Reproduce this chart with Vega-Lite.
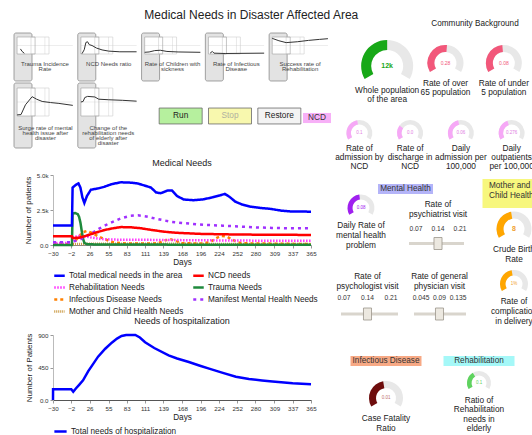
{
"$schema": "https://vega.github.io/schema/vega-lite/v6.json",
"background": "white",
"padding": {"left": 13, "top": 9, "right": 0, "bottom": 0},
"title": {"text": "Medical Needs in Disaster Affected Area", "fontSize": 12, "fontWeight": "normal", "color": "#222", "anchor": "middle", "offset": 0, "dy": 4, "dx": -22},
"config": {
  "font": "Liberation Sans",
  "view": {"stroke": null},
  "axis": {"labelFontSize": 6.2, "titleFontSize": 8.2, "titleFontWeight": "normal", "labelColor": "#333", "titleColor": "#222", "tickColor": "#999", "tickSize": 3, "domainColor": "#bbb", "grid": false, "labelFlush": false},
  "title": {"fontWeight": "normal", "color": "#222"},
  "legend": {"labelFontSize": 8.2, "labelColor": "#222"}
},
"datasets": {
  "thumbs": [
    {"thumb": "trauma", "label": "Trauma Incidence\nRate"},
    {"thumb": "ncd", "label": "NCD Needs ratio"},
    {"thumb": "children", "label": "Rate of Children with\nsickness"},
    {"thumb": "infect", "label": "Rate of Infectious\nDisease"},
    {"thumb": "rehab", "label": "Success rate of\nRehabilitation"},
    {"thumb": "mental", "label": "Surge rate of mental\nhealth issue after\ndisaster"},
    {"thumb": "elderly", "label": "Change of the\nrehabilitation needs\nof elderly after\ndisaster"}
  ],
  "thumbLines": [
    {"thumb": "trauma", "t": 0.06, "v": 0.3}, {"thumb": "trauma", "t": 0.09, "v": 0.15}, {"thumb": "trauma", "t": 0.13, "v": 0.04},
    {"thumb": "ncd", "t": 0.02, "v": 0.02}, {"thumb": "ncd", "t": 0.06, "v": 0.25}, {"thumb": "ncd", "t": 0.09, "v": 0.68}, {"thumb": "ncd", "t": 0.12, "v": 0.72}, {"thumb": "ncd", "t": 0.15, "v": 0.55}, {"thumb": "ncd", "t": 0.2, "v": 0.5}, {"thumb": "ncd", "t": 0.28, "v": 0.35}, {"thumb": "ncd", "t": 0.38, "v": 0.24}, {"thumb": "ncd", "t": 0.5, "v": 0.17}, {"thumb": "ncd", "t": 0.7, "v": 0.13}, {"thumb": "ncd", "t": 1, "v": 0.13},
    {"thumb": "children", "t": 0, "v": 0.1}, {"thumb": "children", "t": 0.08, "v": 0.12}, {"thumb": "children", "t": 0.18, "v": 0.2}, {"thumb": "children", "t": 0.28, "v": 0.22}, {"thumb": "children", "t": 0.4, "v": 0.15}, {"thumb": "children", "t": 0.6, "v": 0.12}, {"thumb": "children", "t": 1, "v": 0.1},
    {"thumb": "infect", "t": 0.03, "v": 0.05}, {"thumb": "infect", "t": 0.07, "v": 0.15}, {"thumb": "infect", "t": 0.1, "v": 0.05}, {"thumb": "infect", "t": 0.3, "v": 0.03}, {"thumb": "infect", "t": 1, "v": 0.05},
    {"thumb": "rehab", "t": 0, "v": 0.92}, {"thumb": "rehab", "t": 0.12, "v": 0.78}, {"thumb": "rehab", "t": 0.25, "v": 0.67}, {"thumb": "rehab", "t": 0.45, "v": 0.72}, {"thumb": "rehab", "t": 0.65, "v": 0.8}, {"thumb": "rehab", "t": 0.85, "v": 0.86}, {"thumb": "rehab", "t": 1, "v": 0.9},
    {"thumb": "mental", "t": 0, "v": 0.04}, {"thumb": "mental", "t": 0.07, "v": 0.05}, {"thumb": "mental", "t": 0.15, "v": 0.4}, {"thumb": "mental", "t": 0.27, "v": 0.69}, {"thumb": "mental", "t": 0.35, "v": 0.6}, {"thumb": "mental", "t": 0.45, "v": 0.52}, {"thumb": "mental", "t": 0.6, "v": 0.48}, {"thumb": "mental", "t": 0.75, "v": 0.45}, {"thumb": "mental", "t": 1, "v": 0.38},
    {"thumb": "elderly", "t": 0, "v": 0.5}, {"thumb": "elderly", "t": 0.04, "v": 0.52}, {"thumb": "elderly", "t": 0.07, "v": 0.66}, {"thumb": "elderly", "t": 0.12, "v": 0.7}, {"thumb": "elderly", "t": 0.25, "v": 0.68}, {"thumb": "elderly", "t": 0.32, "v": 0.6}, {"thumb": "elderly", "t": 0.5, "v": 0.58}, {"thumb": "elderly", "t": 0.75, "v": 0.56}, {"thumb": "elderly", "t": 1, "v": 0.53}
  ],
  "buttons": [{"btn": "Run"}, {"btn": "Stop"}, {"btn": "Restore"}, {"btn": "NCD"}],
  "needs": [
    {"day": -30, "series": "Mother and Child Health Needs", "value": 40}, {"day": -1, "series": "Mother and Child Health Needs", "value": 40}, {"day": 0, "series": "Mother and Child Health Needs", "value": 60}, {"day": 30, "series": "Mother and Child Health Needs", "value": 90}, {"day": 100, "series": "Mother and Child Health Needs", "value": 90}, {"day": 200, "series": "Mother and Child Health Needs", "value": 80}, {"day": 365, "series": "Mother and Child Health Needs", "value": 70},
    {"day": -30, "series": "Infectious Disease Needs", "value": 50}, {"day": -1, "series": "Infectious Disease Needs", "value": 50}, {"day": 0, "series": "Infectious Disease Needs", "value": 100}, {"day": 8, "series": "Infectious Disease Needs", "value": 500}, {"day": 15, "series": "Infectious Disease Needs", "value": 900}, {"day": 22, "series": "Infectious Disease Needs", "value": 1000}, {"day": 30, "series": "Infectious Disease Needs", "value": 850}, {"day": 40, "series": "Infectious Disease Needs", "value": 600}, {"day": 50, "series": "Infectious Disease Needs", "value": 400}, {"day": 62, "series": "Infectious Disease Needs", "value": 200}, {"day": 75, "series": "Infectious Disease Needs", "value": 120}, {"day": 100, "series": "Infectious Disease Needs", "value": 100}, {"day": 130, "series": "Infectious Disease Needs", "value": 120}, {"day": 143, "series": "Infectious Disease Needs", "value": 350}, {"day": 150, "series": "Infectious Disease Needs", "value": 400}, {"day": 158, "series": "Infectious Disease Needs", "value": 300}, {"day": 166, "series": "Infectious Disease Needs", "value": 130}, {"day": 200, "series": "Infectious Disease Needs", "value": 100}, {"day": 212, "series": "Infectious Disease Needs", "value": 250}, {"day": 220, "series": "Infectious Disease Needs", "value": 500}, {"day": 228, "series": "Infectious Disease Needs", "value": 650}, {"day": 236, "series": "Infectious Disease Needs", "value": 600}, {"day": 244, "series": "Infectious Disease Needs", "value": 400}, {"day": 252, "series": "Infectious Disease Needs", "value": 200}, {"day": 262, "series": "Infectious Disease Needs", "value": 120}, {"day": 300, "series": "Infectious Disease Needs", "value": 100}, {"day": 340, "series": "Infectious Disease Needs", "value": 80}, {"day": 365, "series": "Infectious Disease Needs", "value": 80},
    {"day": -30, "series": "Rehabilitation Needs", "value": 150}, {"day": -1, "series": "Rehabilitation Needs", "value": 150}, {"day": 0, "series": "Rehabilitation Needs", "value": 500}, {"day": 8, "series": "Rehabilitation Needs", "value": 650}, {"day": 18, "series": "Rehabilitation Needs", "value": 620}, {"day": 30, "series": "Rehabilitation Needs", "value": 520}, {"day": 45, "series": "Rehabilitation Needs", "value": 420}, {"day": 70, "series": "Rehabilitation Needs", "value": 380}, {"day": 110, "series": "Rehabilitation Needs", "value": 370}, {"day": 160, "series": "Rehabilitation Needs", "value": 350}, {"day": 220, "series": "Rehabilitation Needs", "value": 330}, {"day": 280, "series": "Rehabilitation Needs", "value": 310}, {"day": 365, "series": "Rehabilitation Needs", "value": 300},
    {"day": -30, "series": "Trauma Needs", "value": 0}, {"day": -1, "series": "Trauma Needs", "value": 0}, {"day": 0, "series": "Trauma Needs", "value": 2250}, {"day": 4, "series": "Trauma Needs", "value": 2280}, {"day": 8, "series": "Trauma Needs", "value": 2200}, {"day": 10, "series": "Trauma Needs", "value": 2000}, {"day": 12, "series": "Trauma Needs", "value": 1600}, {"day": 14, "series": "Trauma Needs", "value": 1000}, {"day": 16, "series": "Trauma Needs", "value": 450}, {"day": 18, "series": "Trauma Needs", "value": 150}, {"day": 22, "series": "Trauma Needs", "value": 60}, {"day": 40, "series": "Trauma Needs", "value": 30}, {"day": 365, "series": "Trauma Needs", "value": 20},
    {"day": -30, "series": "Manifest Mental Health Needs", "value": 200}, {"day": -1, "series": "Manifest Mental Health Needs", "value": 200}, {"day": 0, "series": "Manifest Mental Health Needs", "value": 250}, {"day": 10, "series": "Manifest Mental Health Needs", "value": 350}, {"day": 20, "series": "Manifest Mental Health Needs", "value": 600}, {"day": 28, "series": "Manifest Mental Health Needs", "value": 800}, {"day": 40, "series": "Manifest Mental Health Needs", "value": 1150}, {"day": 54, "series": "Manifest Mental Health Needs", "value": 1500}, {"day": 74, "series": "Manifest Mental Health Needs", "value": 1900}, {"day": 88, "series": "Manifest Mental Health Needs", "value": 2080}, {"day": 100, "series": "Manifest Mental Health Needs", "value": 2120}, {"day": 115, "series": "Manifest Mental Health Needs", "value": 2020}, {"day": 130, "series": "Manifest Mental Health Needs", "value": 1850}, {"day": 152, "series": "Manifest Mental Health Needs", "value": 1650}, {"day": 170, "series": "Manifest Mental Health Needs", "value": 1560}, {"day": 200, "series": "Manifest Mental Health Needs", "value": 1450}, {"day": 230, "series": "Manifest Mental Health Needs", "value": 1380}, {"day": 255, "series": "Manifest Mental Health Needs", "value": 1320}, {"day": 280, "series": "Manifest Mental Health Needs", "value": 1260}, {"day": 305, "series": "Manifest Mental Health Needs", "value": 1220}, {"day": 330, "series": "Manifest Mental Health Needs", "value": 1200}, {"day": 365, "series": "Manifest Mental Health Needs", "value": 1200},
    {"day": -30, "series": "NCD needs", "value": 620}, {"day": -1, "series": "NCD needs", "value": 620}, {"day": 0, "series": "NCD needs", "value": 500}, {"day": 10, "series": "NCD needs", "value": 520}, {"day": 20, "series": "NCD needs", "value": 650}, {"day": 30, "series": "NCD needs", "value": 800}, {"day": 40, "series": "NCD needs", "value": 950}, {"day": 50, "series": "NCD needs", "value": 1080}, {"day": 60, "series": "NCD needs", "value": 1180}, {"day": 74, "series": "NCD needs", "value": 1280}, {"day": 90, "series": "NCD needs", "value": 1260}, {"day": 104, "series": "NCD needs", "value": 1200}, {"day": 120, "series": "NCD needs", "value": 1080}, {"day": 140, "series": "NCD needs", "value": 950}, {"day": 160, "series": "NCD needs", "value": 870}, {"day": 198, "series": "NCD needs", "value": 790}, {"day": 250, "series": "NCD needs", "value": 750}, {"day": 303, "series": "NCD needs", "value": 730}, {"day": 365, "series": "NCD needs", "value": 720},
    {"day": -30, "series": "Total medical needs in the area", "value": 1400}, {"day": -1, "series": "Total medical needs in the area", "value": 1400}, {"day": 0, "series": "Total medical needs in the area", "value": 4100}, {"day": 5, "series": "Total medical needs in the area", "value": 4300}, {"day": 9, "series": "Total medical needs in the area", "value": 4400}, {"day": 12, "series": "Total medical needs in the area", "value": 4100}, {"day": 15, "series": "Total medical needs in the area", "value": 3400}, {"day": 18, "series": "Total medical needs in the area", "value": 3000}, {"day": 22, "series": "Total medical needs in the area", "value": 3500}, {"day": 28, "series": "Total medical needs in the area", "value": 3950}, {"day": 40, "series": "Total medical needs in the area", "value": 4050}, {"day": 48, "series": "Total medical needs in the area", "value": 4150}, {"day": 60, "series": "Total medical needs in the area", "value": 4350}, {"day": 74, "series": "Total medical needs in the area", "value": 4480}, {"day": 90, "series": "Total medical needs in the area", "value": 4450}, {"day": 100, "series": "Total medical needs in the area", "value": 4390}, {"day": 110, "series": "Total medical needs in the area", "value": 4250}, {"day": 120, "series": "Total medical needs in the area", "value": 4100}, {"day": 128, "series": "Total medical needs in the area", "value": 3750}, {"day": 135, "series": "Total medical needs in the area", "value": 3700}, {"day": 146, "series": "Total medical needs in the area", "value": 3900}, {"day": 152, "series": "Total medical needs in the area", "value": 3900}, {"day": 160, "series": "Total medical needs in the area", "value": 3500}, {"day": 170, "series": "Total medical needs in the area", "value": 3250}, {"day": 185, "series": "Total medical needs in the area", "value": 3200}, {"day": 200, "series": "Total medical needs in the area", "value": 3260}, {"day": 214, "series": "Total medical needs in the area", "value": 3400}, {"day": 226, "series": "Total medical needs in the area", "value": 3550}, {"day": 233, "series": "Total medical needs in the area", "value": 3650}, {"day": 240, "series": "Total medical needs in the area", "value": 3450}, {"day": 249, "series": "Total medical needs in the area", "value": 3100}, {"day": 260, "series": "Total medical needs in the area", "value": 2880}, {"day": 271, "series": "Total medical needs in the area", "value": 2750}, {"day": 287, "series": "Total medical needs in the area", "value": 2650}, {"day": 303, "series": "Total medical needs in the area", "value": 2580}, {"day": 320, "series": "Total medical needs in the area", "value": 2450}, {"day": 333, "series": "Total medical needs in the area", "value": 2400}, {"day": 365, "series": "Total medical needs in the area", "value": 2380}
  ],
  "hosp": [
    {"day": -30, "series": "Total needs of hospitalization", "value": 0}, {"day": -29.9, "series": "Total needs of hospitalization", "value": 150}, {"day": -2, "series": "Total needs of hospitalization", "value": 150}, {"day": 1, "series": "Total needs of hospitalization", "value": 115}, {"day": 5, "series": "Total needs of hospitalization", "value": 160}, {"day": 10, "series": "Total needs of hospitalization", "value": 210}, {"day": 16, "series": "Total needs of hospitalization", "value": 272}, {"day": 24, "series": "Total needs of hospitalization", "value": 400}, {"day": 30, "series": "Total needs of hospitalization", "value": 480}, {"day": 39, "series": "Total needs of hospitalization", "value": 600}, {"day": 50, "series": "Total needs of hospitalization", "value": 710}, {"day": 60, "series": "Total needs of hospitalization", "value": 794}, {"day": 68, "series": "Total needs of hospitalization", "value": 850}, {"day": 75, "series": "Total needs of hospitalization", "value": 886}, {"day": 82, "series": "Total needs of hospitalization", "value": 900}, {"day": 96, "series": "Total needs of hospitalization", "value": 900}, {"day": 103, "series": "Total needs of hospitalization", "value": 865}, {"day": 111, "series": "Total needs of hospitalization", "value": 800}, {"day": 125, "series": "Total needs of hospitalization", "value": 720}, {"day": 147, "series": "Total needs of hospitalization", "value": 618}, {"day": 160, "series": "Total needs of hospitalization", "value": 575}, {"day": 178, "series": "Total needs of hospitalization", "value": 526}, {"day": 195, "series": "Total needs of hospitalization", "value": 475}, {"day": 209, "series": "Total needs of hospitalization", "value": 435}, {"day": 230, "series": "Total needs of hospitalization", "value": 375}, {"day": 250, "series": "Total needs of hospitalization", "value": 322}, {"day": 270, "series": "Total needs of hospitalization", "value": 290}, {"day": 290, "series": "Total needs of hospitalization", "value": 270}, {"day": 306, "series": "Total needs of hospitalization", "value": 255}, {"day": 337, "series": "Total needs of hospitalization", "value": 231}, {"day": 365, "series": "Total needs of hospitalization", "value": 217}
  ],
  "gA": [
    {"id": "pop", "frac": 0.5, "val": "12k", "label": "Whole population\nof the area"},
    {"id": "o65", "frac": 0.52, "val": "0.28", "label": "Rate of over\n65 population"},
    {"id": "u5", "frac": 0.48, "val": "0.08", "label": "Rate of under\n5 population"}
  ],
  "gB": [
    {"id": "adm", "frac": 0.46, "val": "0.1", "label": "Rate of\nadmission by\nNCD"},
    {"id": "dis", "frac": 0.27, "val": "0.0", "label": "Rate of\ndischarge in\nNCD"},
    {"id": "dadm", "frac": 0.45, "val": "0.06", "label": "Daily\nadmission per\n100,000"},
    {"id": "dout", "frac": 0.42, "val": "0.276", "label": "Daily\noutpatients\nper 100,000"}
  ],
  "gC": [
    {"id": "mh", "frac": 0.47, "val": "0.08", "label": "Daily Rate of\nmental health\nproblem"},
    {"id": "birth", "frac": 0.46, "val": "8", "label": "Crude Birth\nRate"},
    {"id": "compl", "frac": 0.46, "val": "1%", "label": "Rate of\ncomplication\nin delivery"}
  ],
  "sliders": [
    {"id": "psychiatrist", "value": 0.14},
    {"id": "psychologist", "value": 0.14},
    {"id": "gp", "value": 0.09}
  ],
  "gD": [
    {"id": "cfr", "frac": 0.46, "val": "0.01", "label": "Case Fatality\nRatio"},
    {"id": "rehab", "frac": 0.37, "val": "0.1", "label": "Ratio of\nRehabilitation\nneeds in\nelderly"}
  ]
},
"spacing": 0,
"hconcat": [
  {
    "bounds": "flush",
    "spacing": 2,
    "resolve": {"scale": {"color": "independent", "strokeDash": "independent"}},
    "vconcat": [
      {
        "width": 258, "height": 63,
        "data": {"name": "thumbs"},
        "transform": [{"filter": {"field": "thumb", "oneOf": ["trauma", "ncd", "children", "infect", "rehab"]}}],
        "layer": [
          {"mark": {"type": "bar", "color": "#e3e3e3", "stroke": "#8c8c8c", "strokeWidth": 0.8, "cornerRadius": 2},
           "encoding": {"x": {"field": "thumb", "type": "nominal", "scale": {"domain": ["trauma", "ncd", "children", "infect", "rehab"], "range": [-39, 278], "paddingInner": 0.03, "paddingOuter": 0}, "axis": null},
                        "y": {"datum": -1.588, "type": "quantitative", "scale": {"domain": [0, 1], "range": [36, 19], "nice": false, "zero": false}, "axis": null}, "y2": {"datum": 1.235}}},
          {"mark": {"type": "bar", "color": "white", "width": {"band": 0.9}},
           "encoding": {"x": {"field": "thumb", "type": "nominal", "axis": null}, "y": {"datum": 0, "type": "quantitative", "axis": null}, "y2": {"datum": 1}}},
          {"mark": {"type": "bar", "color": "white", "fillOpacity": 0, "stroke": "#cccccc", "strokeWidth": 0.6, "width": {"band": 0.45}},
           "encoding": {"x": {"field": "thumb", "type": "nominal", "axis": null}, "y": {"datum": 0, "type": "quantitative", "axis": null}, "y2": {"datum": 1}}},
          {"mark": {"type": "tick", "orient": "vertical", "size": 17, "thickness": 0.6, "color": "#cccccc"},
           "encoding": {"x": {"field": "thumb", "type": "nominal", "axis": null}, "y": {"datum": 0.5, "type": "quantitative", "axis": null}}},
          {"mark": {"type": "tick", "orient": "horizontal", "size": 55.7, "thickness": 0.6, "color": "#cccccc"},
           "encoding": {"x": {"field": "thumb", "type": "nominal", "axis": null}, "y": {"datum": 0.5, "type": "quantitative", "axis": null}}},
          {"mark": {"type": "bar", "color": "white", "fillOpacity": 0, "stroke": "#a0a0a0", "strokeWidth": 0.6, "width": {"band": 0.9}},
           "encoding": {"x": {"field": "thumb", "type": "nominal", "axis": null}, "y": {"datum": 0, "type": "quantitative", "axis": null}, "y2": {"datum": 1}}},
          {"data": {"name": "thumbLines"},
           "transform": [{"filter": {"field": "thumb", "oneOf": ["trauma", "ncd", "children", "infect", "rehab"]}}],
           "mark": {"type": "line", "color": "#333333", "strokeWidth": 1},
           "encoding": {"x": {"field": "thumb", "type": "nominal", "axis": null}, "xOffset": {"field": "t", "type": "quantitative", "scale": {"domain": [0, 1], "range": [3.1, 58.8]}}, "y": {"field": "v", "type": "quantitative", "axis": null}, "detail": {"field": "thumb", "type": "nominal"}}},
          {"mark": {"type": "text", "baseline": "top", "dy": 11, "fontSize": 6, "lineHeight": 5.5, "lineBreak": "\n", "color": "#444"},
           "encoding": {"x": {"field": "thumb", "type": "nominal", "axis": null}, "text": {"field": "label", "type": "nominal"}}}
        ]
      },
      {
        "width": 258, "height": 90,
        "resolve": {"scale": {"x": "independent"}},
        "layer": [
          {"data": {"name": "thumbs"}, "transform": [{"filter": {"field": "thumb", "oneOf": ["mental", "elderly"]}}],
           "mark": {"type": "bar", "color": "#e3e3e3", "stroke": "#8c8c8c", "strokeWidth": 0.8, "cornerRadius": 2},
           "encoding": {"x": {"field": "thumb", "type": "nominal", "scale": {"domain": ["mental", "elderly"], "range": [-39, 86.7], "paddingInner": 0.03, "paddingOuter": 0}, "axis": null},
                        "y": {"datum": -1.1429, "type": "quantitative", "scale": {"domain": [0, 1], "range": [33, 5], "nice": false, "zero": false}, "axis": null}, "y2": {"datum": 1.1786}}},
          {"data": {"name": "thumbs"}, "transform": [{"filter": {"field": "thumb", "oneOf": ["mental", "elderly"]}}],
           "mark": {"type": "bar", "color": "white", "width": {"band": 0.9}},
           "encoding": {"x": {"field": "thumb", "type": "nominal", "scale": {"domain": ["mental", "elderly"], "range": [-39, 86.7], "paddingInner": 0.03, "paddingOuter": 0}, "axis": null}, "y": {"datum": 0, "type": "quantitative", "axis": null}, "y2": {"datum": 1}}},
          {"data": {"name": "thumbs"}, "transform": [{"filter": {"field": "thumb", "oneOf": ["mental", "elderly"]}}],
           "mark": {"type": "bar", "color": "white", "fillOpacity": 0, "stroke": "#cccccc", "strokeWidth": 0.6, "width": {"band": 0.45}},
           "encoding": {"x": {"field": "thumb", "type": "nominal", "scale": {"domain": ["mental", "elderly"], "range": [-39, 86.7], "paddingInner": 0.03, "paddingOuter": 0}, "axis": null}, "y": {"datum": 0, "type": "quantitative", "axis": null}, "y2": {"datum": 1}}},
          {"data": {"name": "thumbs"}, "transform": [{"filter": {"field": "thumb", "oneOf": ["mental", "elderly"]}}],
           "mark": {"type": "tick", "orient": "vertical", "size": 28, "thickness": 0.6, "color": "#cccccc"},
           "encoding": {"x": {"field": "thumb", "type": "nominal", "scale": {"domain": ["mental", "elderly"], "range": [-39, 86.7], "paddingInner": 0.03, "paddingOuter": 0}, "axis": null}, "y": {"datum": 0.5, "type": "quantitative", "axis": null}}},
          {"data": {"name": "thumbs"}, "transform": [{"filter": {"field": "thumb", "oneOf": ["mental", "elderly"]}}],
           "mark": {"type": "tick", "orient": "horizontal", "size": 55.7, "thickness": 0.6, "color": "#cccccc"},
           "encoding": {"x": {"field": "thumb", "type": "nominal", "scale": {"domain": ["mental", "elderly"], "range": [-39, 86.7], "paddingInner": 0.03, "paddingOuter": 0}, "axis": null}, "y": {"datum": 0.5, "type": "quantitative", "axis": null}}},
          {"data": {"name": "thumbs"}, "transform": [{"filter": {"field": "thumb", "oneOf": ["mental", "elderly"]}}],
           "mark": {"type": "bar", "color": "white", "fillOpacity": 0, "stroke": "#a0a0a0", "strokeWidth": 0.6, "width": {"band": 0.9}},
           "encoding": {"x": {"field": "thumb", "type": "nominal", "scale": {"domain": ["mental", "elderly"], "range": [-39, 86.7], "paddingInner": 0.03, "paddingOuter": 0}, "axis": null}, "y": {"datum": 0, "type": "quantitative", "axis": null}, "y2": {"datum": 1}}},
          {"data": {"name": "thumbLines"}, "transform": [{"filter": {"field": "thumb", "oneOf": ["mental", "elderly"]}}],
           "mark": {"type": "line", "color": "#333333", "strokeWidth": 1},
           "encoding": {"x": {"field": "thumb", "type": "nominal", "scale": {"domain": ["mental", "elderly"], "range": [-39, 86.7], "paddingInner": 0.03, "paddingOuter": 0}, "axis": null}, "xOffset": {"field": "t", "type": "quantitative", "scale": {"domain": [0, 1], "range": [3.1, 58.8]}}, "y": {"field": "v", "type": "quantitative", "axis": null}, "detail": {"field": "thumb", "type": "nominal"}}},
          {"data": {"name": "thumbs"}, "transform": [{"filter": {"field": "thumb", "oneOf": ["mental", "elderly"]}}],
           "mark": {"type": "text", "baseline": "top", "dy": -3.5, "fontSize": 6, "lineHeight": 5, "lineBreak": "\n", "color": "#444"},
           "encoding": {"x": {"field": "thumb", "type": "nominal", "scale": {"domain": ["mental", "elderly"], "range": [-39, 86.7], "paddingInner": 0.03, "paddingOuter": 0}, "axis": null}, "text": {"field": "label", "type": "nominal"}}},
          {"data": {"name": "buttons"}, "transform": [{"filter": {"field": "btn", "equal": "Run"}}],
           "mark": {"type": "point", "shape": "M-1,-0.37H1V0.37H-1Z", "size": 1849, "filled": true, "opacity": 1, "color": "#b6f09e", "stroke": "#6a6a6a", "strokeWidth": 0.8, "yOffset": -12},
           "encoding": {"x": {"field": "btn", "type": "nominal", "scale": {"domain": ["Run", "Stop", "Restore"], "range": [103, 251], "paddingInner": 0, "paddingOuter": 0}, "axis": null}}},
          {"data": {"name": "buttons"}, "transform": [{"filter": {"field": "btn", "equal": "Stop"}}],
           "mark": {"type": "point", "shape": "M-1,-0.37H1V0.37H-1Z", "size": 1849, "filled": true, "opacity": 1, "color": "#f8f8ae", "stroke": "#6a6a6a", "strokeWidth": 0.8, "yOffset": -12},
           "encoding": {"x": {"field": "btn", "type": "nominal", "scale": {"domain": ["Run", "Stop", "Restore"], "range": [103, 251], "paddingInner": 0, "paddingOuter": 0}, "axis": null}}},
          {"data": {"name": "buttons"}, "transform": [{"filter": {"field": "btn", "equal": "Restore"}}],
           "mark": {"type": "point", "shape": "M-1,-0.37H1V0.37H-1Z", "size": 1849, "filled": true, "opacity": 1, "color": "#f3f3f3", "stroke": "#6a6a6a", "strokeWidth": 0.8, "yOffset": -12},
           "encoding": {"x": {"field": "btn", "type": "nominal", "scale": {"domain": ["Run", "Stop", "Restore"], "range": [103, 251], "paddingInner": 0, "paddingOuter": 0}, "axis": null}}},
          {"data": {"name": "buttons"}, "transform": [{"filter": {"field": "btn", "oneOf": ["Run", "Restore"]}}],
           "mark": {"type": "text", "fontSize": 8.3, "color": "#222", "yOffset": -12},
           "encoding": {"x": {"field": "btn", "type": "nominal", "scale": {"domain": ["Run", "Stop", "Restore"], "range": [103, 251], "paddingInner": 0, "paddingOuter": 0}, "axis": null}, "text": {"field": "btn", "type": "nominal"}}},
          {"data": {"name": "buttons"}, "transform": [{"filter": {"field": "btn", "equal": "Stop"}}],
           "mark": {"type": "text", "fontSize": 8.3, "color": "#b0b0a0", "yOffset": -12},
           "encoding": {"x": {"field": "btn", "type": "nominal", "scale": {"domain": ["Run", "Stop", "Restore"], "range": [103, 251], "paddingInner": 0, "paddingOuter": 0}, "axis": null}, "text": {"field": "btn", "type": "nominal"}}},
          {"data": {"name": "buttons"}, "transform": [{"filter": {"field": "btn", "equal": "NCD"}}],
           "mark": {"type": "point", "shape": "M-1,-0.36H1V0.36H-1Z", "size": 784, "filled": true, "opacity": 1, "color": "#f7b0f7", "yOffset": -10},
           "encoding": {"x": {"field": "btn", "type": "nominal", "scale": {"domain": ["NCD"], "range": [250, 278], "paddingInner": 0, "paddingOuter": 0}, "axis": null}}},
          {"data": {"name": "buttons"}, "transform": [{"filter": {"field": "btn", "equal": "NCD"}}],
           "mark": {"type": "text", "fontSize": 8.3, "color": "#333", "yOffset": -10},
           "encoding": {"x": {"field": "btn", "type": "nominal", "scale": {"domain": ["NCD"], "range": [250, 278], "paddingInner": 0, "paddingOuter": 0}, "axis": null}, "text": {"field": "btn", "type": "nominal"}}}
        ]
      },
      {
        "width": 258, "height": 70,
        "title": {"text": "Medical Needs", "fontSize": 9, "offset": 4},
        "data": {"name": "needs"},
        "mark": {"type": "line", "strokeWidth": 2.5},
        "encoding": {
          "x": {"field": "day", "type": "quantitative", "scale": {"domain": [-30, 365], "nice": false, "zero": false},
                "axis": {"title": "Days", "values": [-30, -2, 26, 55, 83, 111, 139, 168, 196, 224, 252, 280, 309, 337, 365], "labelOverlap": false, "domainColor": "#888", "titlePadding": 2}},
          "y": {"field": "value", "type": "quantitative", "scale": {"domain": [0, 5000], "nice": false},
                "axis": {"title": "Number of patients", "values": [0, 2500, 5000], "format": ".2s", "titleFontSize": 8}},
          "color": {"field": "series", "type": "nominal",
                    "scale": {"domain": ["Total medical needs in the area", "NCD needs", "Rehabilitation Needs", "Trauma Needs", "Infectious Disease Needs", "Manifest Mental Health Needs", "Mother and Child Health Needs"],
                              "range": ["#0000ff", "#ff0000", "#ff33ff", "#1e8a3c", "#ff8000", "#a030ff", "#c8963c"]},
                    "legend": {"title": null, "orient": "bottom", "columns": 2, "symbolType": "stroke", "symbolSize": 110, "symbolStrokeWidth": 2.5, "columnPadding": 4, "rowPadding": 0, "labelOffset": 3, "offset": 3}},
          "strokeDash": {"field": "series", "type": "nominal",
                    "scale": {"domain": ["Total medical needs in the area", "NCD needs", "Rehabilitation Needs", "Trauma Needs", "Infectious Disease Needs", "Manifest Mental Health Needs", "Mother and Child Health Needs"],
                              "range": [[1, 0], [1, 0], [1.5, 1.5], [1, 0], [3, 3], [3, 4], [1, 1]]},
                    "legend": {"title": null, "orient": "bottom", "columns": 2, "symbolType": "stroke", "symbolSize": 110, "symbolStrokeWidth": 2.5, "columnPadding": 4, "rowPadding": 0, "labelOffset": 3, "offset": 3}}
        }
      },
      {
        "width": 258, "height": 86,
        "data": {"values": [{"blank": 1}]},
        "mark": {"type": "point", "opacity": 0},
        "encoding": {}
      },
      {
        "width": 258, "height": 65,
        "title": {"text": "Needs of hospitalization", "fontSize": 9, "offset": 4},
        "data": {"name": "hosp"},
        "mark": {"type": "line", "strokeWidth": 2.5},
        "encoding": {
          "x": {"field": "day", "type": "quantitative", "scale": {"domain": [-30, 365], "nice": false, "zero": false},
                "axis": {"title": "Days", "values": [-30, -2, 26, 55, 83, 111, 139, 168, 196, 224, 252, 280, 309, 337, 365], "labelOverlap": false, "domainColor": "#555", "titlePadding": 2}},
          "y": {"field": "value", "type": "quantitative", "scale": {"domain": [0, 900], "nice": false},
                "axis": {"title": "Number of Patients", "values": [0, 450, 900], "format": ".2s", "titleFontSize": 8}},
          "color": {"field": "series", "type": "nominal", "scale": {"range": ["#0000ff"]},
                    "legend": {"title": null, "orient": "bottom", "symbolType": "stroke", "symbolSize": 150, "symbolStrokeWidth": 2.5, "labelOffset": 3, "offset": 3}}
        }
      }
    ]
  },
  {
    "bounds": "flush",
    "spacing": 0,
    "vconcat": [
      {
        "width": 202, "height": 75,
        "data": {"name": "gA"},
        "layer": [
          {"transform": [{"filter": "datum.id == 'pop'"}], "mark": {"type": "text", "text": "Community Background", "fontSize": 8.2, "color": "#222", "xOffset": 43, "yOffset": -31.5}, "encoding": {}},
          {"transform": [{"filter": "datum.id == 'pop'"}], "mark": {"type": "arc", "outerRadius": 26, "innerRadius": 16, "color": "#e8e8e8", "yOffset": 10.5, "theta": -2.0944, "theta2": 2.0944},
           "encoding": {"x": {"field": "id", "type": "nominal", "scale": {"domain": ["pop", "o65", "u5"], "range": [27, 202], "paddingInner": 0, "paddingOuter": 0}, "axis": null}}},
          {"transform": [{"filter": "datum.id == 'pop'"}], "mark": {"type": "arc", "outerRadius": 26, "innerRadius": 16, "color": "#17a817", "yOffset": 10.5, "theta2": -2.0944},
           "encoding": {"x": {"field": "id", "type": "nominal", "axis": null}, "theta": {"field": "frac", "type": "quantitative", "stack": null, "scale": {"domain": [0, 1], "range": [-2.0944, 2.0944]}}}},
          {"transform": [{"filter": "datum.id != 'pop'"}], "mark": {"type": "arc", "outerRadius": 18, "innerRadius": 11, "color": "#e8e8e8", "yOffset": 7.5, "theta": -2.0944, "theta2": 2.0944},
           "encoding": {"x": {"field": "id", "type": "nominal", "axis": null}}},
          {"transform": [{"filter": "datum.id != 'pop'"}], "mark": {"type": "arc", "outerRadius": 18, "innerRadius": 11, "color": "#f2577a", "yOffset": 7.5, "theta2": -2.0944},
           "encoding": {"x": {"field": "id", "type": "nominal", "axis": null}, "theta": {"field": "frac", "type": "quantitative", "stack": null}}},
          {"transform": [{"filter": "datum.id == 'pop'"}], "mark": {"type": "text", "fontSize": 7, "fontWeight": "bold", "color": "#17a817", "yOffset": 10.5},
           "encoding": {"x": {"field": "id", "type": "nominal", "axis": null}, "text": {"field": "val", "type": "nominal"}}},
          {"transform": [{"filter": "datum.id != 'pop'"}], "mark": {"type": "text", "fontSize": 5, "color": "#f2577a", "yOffset": 7.5},
           "encoding": {"x": {"field": "id", "type": "nominal", "axis": null}, "text": {"field": "val", "type": "nominal"}}},
          {"transform": [{"filter": "datum.id == 'pop'"}], "mark": {"type": "text", "baseline": "top", "dy": 30.75, "fontSize": 8.3, "lineHeight": 9, "lineBreak": "\n", "color": "#222"},
           "encoding": {"x": {"field": "id", "type": "nominal", "axis": null}, "text": {"field": "label", "type": "nominal"}}},
          {"transform": [{"filter": "datum.id != 'pop'"}], "mark": {"type": "text", "baseline": "top", "dy": 23.75, "fontSize": 8.3, "lineHeight": 9, "lineBreak": "\n", "color": "#222"},
           "encoding": {"x": {"field": "id", "type": "nominal", "axis": null}, "text": {"field": "label", "type": "nominal"}}}
        ]
      },
      {
        "width": 202, "height": 80,
        "data": {"name": "gB"},
        "layer": [
          {"mark": {"type": "arc", "outerRadius": 13, "innerRadius": 8.5, "color": "#e8e8e8", "theta": -2.0944, "theta2": 2.0944},
           "encoding": {"x": {"field": "id", "type": "nominal", "scale": {"domain": ["adm", "dis", "dadm", "dout"], "range": [3, 206], "paddingInner": 0, "paddingOuter": 0}, "axis": null}}},
          {"mark": {"type": "arc", "outerRadius": 13, "innerRadius": 8.5, "color": "#f6a8f6", "theta2": -2.0944},
           "encoding": {"x": {"field": "id", "type": "nominal", "axis": null}, "theta": {"field": "frac", "type": "quantitative", "stack": null, "scale": {"domain": [0, 1], "range": [-2.0944, 2.0944]}}}},
          {"mark": {"type": "text", "fontSize": 4.5, "color": "#e27ee2"},
           "encoding": {"x": {"field": "id", "type": "nominal", "axis": null}, "text": {"field": "val", "type": "nominal"}}},
          {"mark": {"type": "text", "baseline": "top", "dy": 11.3, "fontSize": 8.3, "lineHeight": 9, "lineBreak": "\n", "color": "#222", "clip": true},
           "encoding": {"x": {"field": "id", "type": "nominal", "axis": null}, "text": {"field": "label", "type": "nominal"}}}
        ]
      },
      {
        "width": 202, "height": 90,
        "layer": [
          {"data": {"name": "gC"}, "transform": [{"filter": "datum.id == 'mh'"}],
           "mark": {"type": "point", "shape": "M-1,-0.18H1V0.18H-1Z", "size": 3025, "filled": true, "opacity": 1, "color": "#b4b4f8", "xOffset": -26.5, "yOffset": -29}, "encoding": {}},
          {"data": {"name": "gC"}, "transform": [{"filter": "datum.id == 'mh'"}],
           "mark": {"type": "text", "text": "Mental Health", "fontSize": 8.2, "color": "#333", "xOffset": -26.5, "yOffset": -29}, "encoding": {}},
          {"data": {"name": "gC"}, "transform": [{"filter": "datum.id == 'birth'"}],
           "mark": {"type": "point", "shape": "M-1,-0.558H1V0.558H-1Z", "size": 2704, "filled": true, "opacity": 1, "color": "#f7f77d", "xOffset": 76.5, "yOffset": -24.5, "clip": true}, "encoding": {}},
          {"data": {"name": "gC"}, "transform": [{"filter": "datum.id == 'birth'"}],
           "mark": {"type": "text", "text": ["Mother and", "Child Health"], "align": "left", "baseline": "top", "fontSize": 8.2, "lineHeight": 10, "color": "#333", "xOffset": 57, "yOffset": -36.5, "clip": true}, "encoding": {}},
          {"data": {"name": "gC"}, "transform": [{"filter": "datum.id == 'mh'"}],
           "mark": {"type": "arc", "outerRadius": 13.5, "innerRadius": 8.5, "color": "#e8e8e8", "xOffset": -71, "yOffset": -10, "theta": -2.0944, "theta2": 2.0944}, "encoding": {}},
          {"data": {"name": "gC"}, "transform": [{"filter": "datum.id == 'mh'"}],
           "mark": {"type": "arc", "outerRadius": 13.5, "innerRadius": 8.5, "color": "#a020f0", "xOffset": -71, "yOffset": -10, "theta2": -2.0944},
           "encoding": {"theta": {"field": "frac", "type": "quantitative", "stack": null, "scale": {"domain": [0, 1], "range": [-2.0944, 2.0944]}}}},
          {"data": {"name": "gC"}, "transform": [{"filter": "datum.id == 'mh'"}],
           "mark": {"type": "text", "fontSize": 4.5, "color": "#a020f0", "xOffset": -71, "yOffset": -10}, "encoding": {"text": {"field": "val", "type": "nominal"}}},
          {"data": {"name": "gC"}, "transform": [{"filter": "datum.id == 'mh'"}],
           "mark": {"type": "text", "baseline": "top", "dy": 13, "fontSize": 8.3, "lineHeight": 10, "lineBreak": "\n", "color": "#222", "xOffset": -71, "yOffset": -10}, "encoding": {"text": {"field": "label", "type": "nominal"}}},
          {"data": {"name": "gC"}, "transform": [{"filter": "datum.id == 'birth'"}],
           "mark": {"type": "arc", "outerRadius": 17.5, "innerRadius": 10.5, "color": "#e8e8e8", "xOffset": 82, "yOffset": 11, "theta": -2.0944, "theta2": 2.0944}, "encoding": {}},
          {"data": {"name": "gC"}, "transform": [{"filter": "datum.id == 'birth'"}],
           "mark": {"type": "arc", "outerRadius": 17.5, "innerRadius": 10.5, "color": "#ffa600", "xOffset": 82, "yOffset": 11, "theta2": -2.0944},
           "encoding": {"theta": {"field": "frac", "type": "quantitative", "stack": null}}},
          {"data": {"name": "gC"}, "transform": [{"filter": "datum.id == 'birth'"}],
           "mark": {"type": "text", "fontSize": 7, "fontWeight": "bold", "color": "#f0a030", "xOffset": 82, "yOffset": 11}, "encoding": {"text": {"field": "val", "type": "nominal"}}},
          {"data": {"name": "gC"}, "transform": [{"filter": "datum.id == 'birth'"}],
           "mark": {"type": "text", "baseline": "top", "dy": 15.5, "fontSize": 8.3, "lineHeight": 10, "lineBreak": "\n", "color": "#222", "xOffset": 82, "yOffset": 11, "clip": true}, "encoding": {"text": {"field": "label", "type": "nominal"}}},
          {"data": {"name": "sliders"}, "transform": [{"filter": "datum.id == 'psychiatrist'"}],
           "mark": {"type": "rule", "color": "#d9d5cd", "strokeWidth": 3, "yOffset": -19.5},
           "encoding": {"x": {"datum": 0.0477, "type": "quantitative", "scale": {"domain": [0.07, 0.21], "range": [85, 129], "nice": false, "zero": false}, "axis": null}, "x2": {"datum": 0.2227},
                        "y": {"datum": 0, "type": "quantitative", "scale": {"domain": [0, 1], "nice": false, "zero": false}, "axis": null}}},
          {"data": {"name": "sliders"}, "transform": [{"filter": "datum.id == 'psychiatrist'"}],
           "mark": {"type": "text", "text": "0.07", "fontSize": 6.7, "color": "#333", "yOffset": -34},
           "encoding": {"x": {"datum": 0.07, "type": "quantitative", "axis": null}, "y": {"datum": 0, "type": "quantitative", "axis": null}}},
          {"data": {"name": "sliders"}, "transform": [{"filter": "datum.id == 'psychiatrist'"}],
           "mark": {"type": "text", "text": "0.14", "fontSize": 6.7, "color": "#333", "yOffset": -34},
           "encoding": {"x": {"datum": 0.14, "type": "quantitative", "axis": null}, "y": {"datum": 0, "type": "quantitative", "axis": null}}},
          {"data": {"name": "sliders"}, "transform": [{"filter": "datum.id == 'psychiatrist'"}],
           "mark": {"type": "text", "text": "0.21", "fontSize": 6.7, "color": "#333", "yOffset": -34},
           "encoding": {"x": {"datum": 0.21, "type": "quantitative", "axis": null}, "y": {"datum": 0, "type": "quantitative", "axis": null}}},
          {"data": {"name": "sliders"}, "transform": [{"filter": "datum.id == 'psychiatrist'"}],
           "mark": {"type": "point", "shape": "M-0.67,-1H0.67V1H-0.67Z", "size": 144, "filled": true, "opacity": 1, "color": "#ece8e0", "stroke": "#9a948a", "strokeWidth": 0.8, "yOffset": -19.5},
           "encoding": {"x": {"field": "value", "type": "quantitative", "axis": null}, "y": {"datum": 0, "type": "quantitative", "axis": null}}},
          {"data": {"name": "sliders"}, "transform": [{"filter": "datum.id == 'psychiatrist'"}],
           "mark": {"type": "text", "text": ["Rate of", "psychiatrist visit"], "baseline": "top", "fontSize": 8.3, "lineHeight": 10, "color": "#222", "yOffset": -63},
           "encoding": {"x": {"datum": 0.14, "type": "quantitative", "axis": null}, "y": {"datum": 0, "type": "quantitative", "axis": null}}}
        ]
      },
      {
        "width": 202, "height": 63,
        "resolve": {"scale": {"x": "independent"}},
        "layer": [
          {"data": {"name": "sliders"}, "transform": [{"filter": "datum.id == 'psychologist'"}],
           "mark": {"type": "rule", "color": "#d9d5cd", "strokeWidth": 3, "yOffset": -12},
           "encoding": {"x": {"datum": 0.0611, "type": "quantitative", "scale": {"domain": [0.07, 0.21], "range": [13, 60], "nice": false, "zero": false}, "axis": null}, "x2": {"datum": 0.2309},
                        "y": {"datum": 0, "type": "quantitative", "scale": {"domain": [0, 1], "nice": false, "zero": false}, "axis": null}}},
          {"data": {"name": "sliders"}, "transform": [{"filter": "datum.id == 'psychologist'"}],
           "mark": {"type": "text", "text": "0.07", "fontSize": 6.7, "color": "#333", "yOffset": -28},
           "encoding": {"x": {"datum": 0.07, "type": "quantitative", "scale": {"domain": [0.07, 0.21], "range": [13, 60], "nice": false, "zero": false}, "axis": null}, "y": {"datum": 0, "type": "quantitative", "axis": null}}},
          {"data": {"name": "sliders"}, "transform": [{"filter": "datum.id == 'psychologist'"}],
           "mark": {"type": "text", "text": "0.14", "fontSize": 6.7, "color": "#333", "yOffset": -28},
           "encoding": {"x": {"datum": 0.14, "type": "quantitative", "scale": {"domain": [0.07, 0.21], "range": [13, 60], "nice": false, "zero": false}, "axis": null}, "y": {"datum": 0, "type": "quantitative", "axis": null}}},
          {"data": {"name": "sliders"}, "transform": [{"filter": "datum.id == 'psychologist'"}],
           "mark": {"type": "text", "text": "0.21", "fontSize": 6.7, "color": "#333", "yOffset": -28},
           "encoding": {"x": {"datum": 0.21, "type": "quantitative", "scale": {"domain": [0.07, 0.21], "range": [13, 60], "nice": false, "zero": false}, "axis": null}, "y": {"datum": 0, "type": "quantitative", "axis": null}}},
          {"data": {"name": "sliders"}, "transform": [{"filter": "datum.id == 'psychologist'"}],
           "mark": {"type": "point", "shape": "M-0.67,-1H0.67V1H-0.67Z", "size": 144, "filled": true, "opacity": 1, "color": "#ece8e0", "stroke": "#9a948a", "strokeWidth": 0.8, "yOffset": -12},
           "encoding": {"x": {"field": "value", "type": "quantitative", "scale": {"domain": [0.07, 0.21], "range": [13, 60], "nice": false, "zero": false}, "axis": null}, "y": {"datum": 0, "type": "quantitative", "axis": null}}},
          {"data": {"name": "sliders"}, "transform": [{"filter": "datum.id == 'psychologist'"}],
           "mark": {"type": "text", "text": ["Rate of", "psychologist visit"], "baseline": "top", "fontSize": 8.3, "lineHeight": 10, "color": "#222", "yOffset": -54.5},
           "encoding": {"x": {"datum": 0.14, "type": "quantitative", "scale": {"domain": [0.07, 0.21], "range": [13, 60], "nice": false, "zero": false}, "axis": null}, "y": {"datum": 0, "type": "quantitative", "axis": null}}},
          {"data": {"name": "sliders"}, "transform": [{"filter": "datum.id == 'gp'"}],
           "mark": {"type": "rule", "color": "#d9d5cd", "strokeWidth": 3, "yOffset": -12},
           "encoding": {"x": {"datum": 0.028, "type": "quantitative", "scale": {"domain": [0.045, 0.135], "range": [90, 127], "nice": false, "zero": false}, "axis": null}, "x2": {"datum": 0.1545},
                        "y": {"datum": 0, "type": "quantitative", "axis": null}}},
          {"data": {"name": "sliders"}, "transform": [{"filter": "datum.id == 'gp'"}],
           "mark": {"type": "text", "text": "0.045", "fontSize": 6.7, "color": "#333", "yOffset": -28},
           "encoding": {"x": {"datum": 0.045, "type": "quantitative", "scale": {"domain": [0.045, 0.135], "range": [90, 127], "nice": false, "zero": false}, "axis": null}, "y": {"datum": 0, "type": "quantitative", "axis": null}}},
          {"data": {"name": "sliders"}, "transform": [{"filter": "datum.id == 'gp'"}],
           "mark": {"type": "text", "text": "0.09", "fontSize": 6.7, "color": "#333", "yOffset": -28},
           "encoding": {"x": {"datum": 0.09, "type": "quantitative", "scale": {"domain": [0.045, 0.135], "range": [90, 127], "nice": false, "zero": false}, "axis": null}, "y": {"datum": 0, "type": "quantitative", "axis": null}}},
          {"data": {"name": "sliders"}, "transform": [{"filter": "datum.id == 'gp'"}],
           "mark": {"type": "text", "text": "0.135", "fontSize": 6.7, "color": "#333", "yOffset": -28},
           "encoding": {"x": {"datum": 0.135, "type": "quantitative", "scale": {"domain": [0.045, 0.135], "range": [90, 127], "nice": false, "zero": false}, "axis": null}, "y": {"datum": 0, "type": "quantitative", "axis": null}}},
          {"data": {"name": "sliders"}, "transform": [{"filter": "datum.id == 'gp'"}],
           "mark": {"type": "point", "shape": "M-0.67,-1H0.67V1H-0.67Z", "size": 144, "filled": true, "opacity": 1, "color": "#ece8e0", "stroke": "#9a948a", "strokeWidth": 0.8, "yOffset": -12},
           "encoding": {"x": {"field": "value", "type": "quantitative", "scale": {"domain": [0.045, 0.135], "range": [90, 127], "nice": false, "zero": false}, "axis": null}, "y": {"datum": 0, "type": "quantitative", "axis": null}}},
          {"data": {"name": "sliders"}, "transform": [{"filter": "datum.id == 'gp'"}],
           "mark": {"type": "text", "text": ["Rate of general", "physician visit"], "baseline": "top", "fontSize": 8.3, "lineHeight": 10, "color": "#222", "yOffset": -54.5},
           "encoding": {"x": {"datum": 0.09, "type": "quantitative", "scale": {"domain": [0.045, 0.135], "range": [90, 127], "nice": false, "zero": false}, "axis": null}, "y": {"datum": 0, "type": "quantitative", "axis": null}}},
          {"data": {"name": "gC"}, "transform": [{"filter": "datum.id == 'compl'"}],
           "mark": {"type": "arc", "outerRadius": 14, "innerRadius": 8.5, "color": "#e8e8e8", "xOffset": 82, "yOffset": -10.5, "theta": -2.0944, "theta2": 2.0944}, "encoding": {}},
          {"data": {"name": "gC"}, "transform": [{"filter": "datum.id == 'compl'"}],
           "mark": {"type": "arc", "outerRadius": 14, "innerRadius": 8.5, "color": "#ffa600", "xOffset": 82, "yOffset": -10.5, "theta2": -2.0944},
           "encoding": {"theta": {"field": "frac", "type": "quantitative", "stack": null, "scale": {"domain": [0, 1], "range": [-2.0944, 2.0944]}}}},
          {"data": {"name": "gC"}, "transform": [{"filter": "datum.id == 'compl'"}],
           "mark": {"type": "text", "fontSize": 4.5, "color": "#f0a030", "xOffset": 82, "yOffset": -10.5}, "encoding": {"text": {"field": "val", "type": "nominal"}}},
          {"data": {"name": "gC"}, "transform": [{"filter": "datum.id == 'compl'"}],
           "mark": {"type": "text", "baseline": "top", "dy": 12.5, "fontSize": 8.3, "lineHeight": 10, "lineBreak": "\n", "color": "#222", "xOffset": 82, "yOffset": -10.5, "clip": true}, "encoding": {"text": {"field": "label", "type": "nominal"}}}
        ]
      },
      {
        "width": 202, "height": 108,
        "data": {"name": "gD"},
        "layer": [
          {"transform": [{"filter": "datum.id == 'cfr'"}], "mark": {"type": "point", "shape": "M-1,-0.14H1V0.14H-1Z", "size": 5041, "filled": true, "opacity": 1, "color": "#f7a985", "yOffset": -19},
           "encoding": {"x": {"field": "id", "type": "nominal", "scale": {"domain": ["cfr", "rehab"], "range": [8.5, 194.5], "paddingInner": 0, "paddingOuter": 0}, "axis": null}}},
          {"transform": [{"filter": "datum.id == 'rehab'"}], "mark": {"type": "point", "shape": "M-1,-0.14H1V0.14H-1Z", "size": 5041, "filled": true, "opacity": 1, "color": "#a5f8f8", "yOffset": -19},
           "encoding": {"x": {"field": "id", "type": "nominal", "axis": null}}},
          {"transform": [{"filter": "datum.id == 'cfr'"}], "mark": {"type": "text", "text": "Infectious Disease", "fontSize": 8.2, "color": "#333", "yOffset": -19},
           "encoding": {"x": {"field": "id", "type": "nominal", "axis": null}}},
          {"transform": [{"filter": "datum.id == 'rehab'"}], "mark": {"type": "text", "text": "Rehabilitation", "fontSize": 8.2, "color": "#333", "yOffset": -19},
           "encoding": {"x": {"field": "id", "type": "nominal", "axis": null}}},
          {"transform": [{"filter": "datum.id == 'cfr'"}], "mark": {"type": "arc", "outerRadius": 17, "innerRadius": 10, "color": "#e8e8e8", "yOffset": 18, "theta": -2.0944, "theta2": 2.0944},
           "encoding": {"x": {"field": "id", "type": "nominal", "axis": null}}},
          {"transform": [{"filter": "datum.id == 'cfr'"}], "mark": {"type": "arc", "outerRadius": 17, "innerRadius": 10, "color": "#6e0d0d", "yOffset": 18, "theta2": -2.0944},
           "encoding": {"x": {"field": "id", "type": "nominal", "axis": null}, "theta": {"field": "frac", "type": "quantitative", "stack": null, "scale": {"domain": [0, 1], "range": [-2.0944, 2.0944]}}}},
          {"transform": [{"filter": "datum.id == 'cfr'"}], "mark": {"type": "text", "fontSize": 4.5, "color": "#c07070", "yOffset": 18},
           "encoding": {"x": {"field": "id", "type": "nominal", "axis": null}, "text": {"field": "val", "type": "nominal"}}},
          {"transform": [{"filter": "datum.id == 'cfr'"}], "mark": {"type": "text", "baseline": "top", "dy": 33.5, "fontSize": 8.3, "lineHeight": 10, "lineBreak": "\n", "color": "#222"},
           "encoding": {"x": {"field": "id", "type": "nominal", "axis": null}, "text": {"field": "label", "type": "nominal"}}},
          {"transform": [{"filter": "datum.id == 'rehab'"}], "mark": {"type": "arc", "outerRadius": 12, "innerRadius": 7.5, "color": "#e8e8e8", "yOffset": 3, "theta": -2.0944, "theta2": 2.0944},
           "encoding": {"x": {"field": "id", "type": "nominal", "axis": null}}},
          {"transform": [{"filter": "datum.id == 'rehab'"}], "mark": {"type": "arc", "outerRadius": 12, "innerRadius": 7.5, "color": "#5fd35f", "yOffset": 3, "theta2": -2.0944},
           "encoding": {"x": {"field": "id", "type": "nominal", "axis": null}, "theta": {"field": "frac", "type": "quantitative", "stack": null}}},
          {"transform": [{"filter": "datum.id == 'rehab'"}], "mark": {"type": "text", "fontSize": 4.5, "color": "#5fd35f", "yOffset": 3},
           "encoding": {"x": {"field": "id", "type": "nominal", "axis": null}, "text": {"field": "val", "type": "nominal"}}},
          {"transform": [{"filter": "datum.id == 'rehab'"}], "mark": {"type": "text", "baseline": "top", "dy": 15.5, "fontSize": 8.3, "lineHeight": 9.6, "lineBreak": "\n", "color": "#222"},
           "encoding": {"x": {"field": "id", "type": "nominal", "axis": null}, "text": {"field": "label", "type": "nominal"}}}
        ]
      }
    ]
  }
]
}
